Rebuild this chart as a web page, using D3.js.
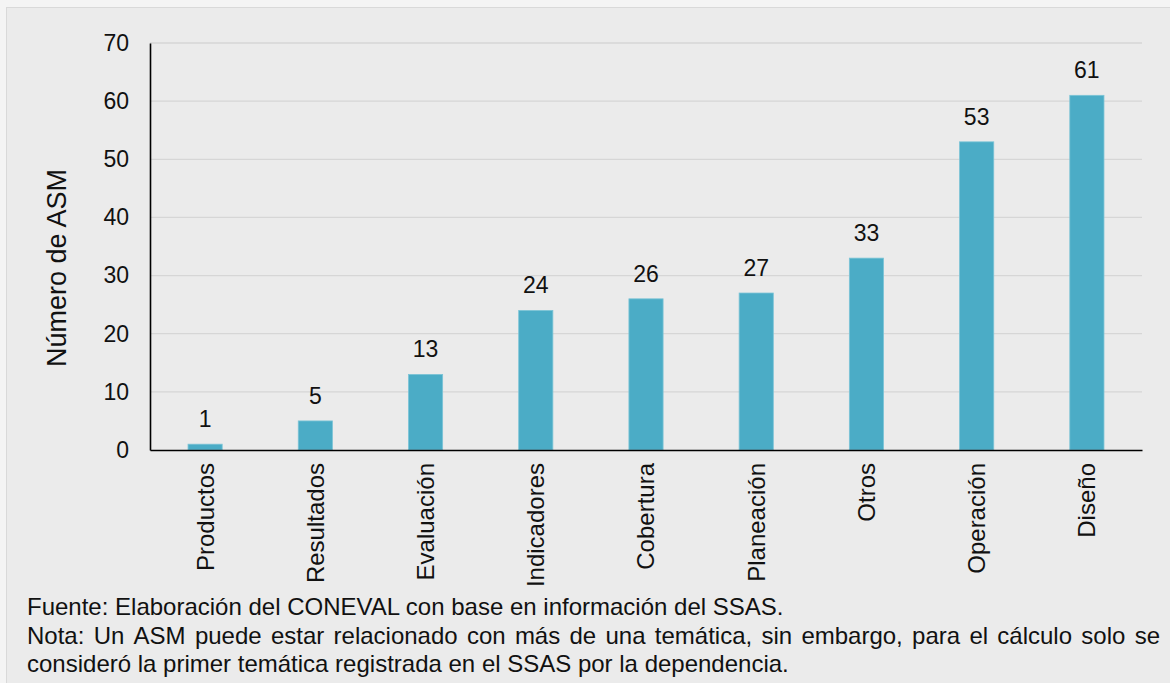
<!DOCTYPE html>
<html>
<head>
<meta charset="utf-8">
<script src="https://cdn.jsdelivr.net/npm/d3@7"></script>
<style>
  body { margin: 0; background: #f4f4f4; }
  svg { display: block; font-family: "Liberation Sans", Arial, sans-serif; }
</style>
</head>
<body>
<svg id="chart" width="1170" height="683"></svg>
<script>
const categories = ["Productos", "Resultados", "Evaluación", "Indicadores", "Cobertura", "Planeación", "Otros", "Operación", "Diseño"];
const values = [1, 5, 13, 24, 26, 27, 33, 53, 61];
const yTicks = [0, 10, 20, 30, 40, 50, 60, 70];
const notes = [
  "Fuente: Elaboración del CONEVAL con base en información del SSAS.",
  "Nota: Un ASM puede estar relacionado con más de una temática, sin embargo, para el cálculo solo se",
  "consideró la primer temática registrada en el SSAS por la dependencia."
];

const svg = d3.select("#chart");
const W = 1170, H = 683;
const plotLeft = 150, plotRight = 1142, plotTop = 43, plotBottom = 450;
const FONT = "Liberation Sans, Arial, sans-serif";

// fond du panneau
svg.append("rect")
  .attr("x", 6.5).attr("y", 7.5)
  .attr("width", W + 10).attr("height", H + 10)
  .attr("fill", "#ebebeb")
  .attr("stroke", "#d9d9d9");

const x = d3.scaleBand().domain(categories).range([plotLeft, plotRight]).paddingInner(0.69).paddingOuter(0.345);
const y = d3.scaleLinear().domain([0, 70]).range([plotBottom, plotTop]);

// grille
svg.append("g")
  .selectAll("line")
  .data(yTicks.filter(t => t > 0))
  .join("line")
  .attr("x1", plotLeft).attr("x2", plotRight)
  .attr("y1", d => y(d)).attr("y2", d => y(d))
  .attr("stroke", "#d6d6d6")
  .attr("stroke-width", 1.3);

// barres
svg.append("g")
  .selectAll("rect")
  .data(values)
  .join("rect")
  .attr("x", (d, i) => x(categories[i]))
  .attr("y", d => y(d))
  .attr("width", x.bandwidth())
  .attr("height", d => plotBottom - y(d))
  .attr("fill", "#4bacc6")
  .attr("stroke", "#7cc4d6")
  .attr("stroke-width", 0.8);

// étiquettes de valeur
svg.append("g")
  .selectAll("text")
  .data(values)
  .join("text")
  .attr("x", (d, i) => x(categories[i]) + x.bandwidth() / 2)
  .attr("y", d => y(d) - 17)
  .attr("text-anchor", "middle")
  .attr("font-size", "23px")
  .attr("fill", "#111")
  .text(d => d);

// axe Y
const yAxis = svg.append("g")
  .attr("transform", `translate(${plotLeft},0)`)
  .call(d3.axisLeft(y).tickValues(yTicks).tickSize(0).tickPadding(21));
yAxis.select(".domain").attr("stroke", "#000").attr("stroke-width", 1.6);
yAxis.selectAll("text").attr("font-size", "23px").attr("fill", "#111").attr("font-family", FONT);

// axe X
const xAxis = svg.append("g")
  .attr("transform", `translate(0,${plotBottom})`)
  .call(d3.axisBottom(x).tickSize(0).tickPadding(0));
xAxis.select(".domain").attr("stroke", "#000").attr("stroke-width", 1.6);
xAxis.selectAll("text")
  .attr("font-size", "24px")
  .attr("fill", "#111")
  .attr("font-family", FONT)
  .attr("transform", "rotate(-90)")
  .attr("text-anchor", "end")
  .attr("x", -13)
  .attr("y", 0)
  .attr("dy", "0.35em");

// titre axe Y
svg.append("text")
  .attr("transform", `translate(66,268) rotate(-90)`)
  .attr("text-anchor", "middle")
  .attr("font-size", "27px")
  .attr("fill", "#111")
  .text("Número de ASM");

// notes en bas (ligne 2 justifiée)
const noteX = 27, noteRight = 1160;
const noteY = [615, 644, 672];
notes.forEach((line, i) => {
  if (i !== 1) {
    svg.append("text")
      .attr("x", noteX).attr("y", noteY[i])
      .attr("font-size", "24px").attr("fill", "#111")
      .text(line);
    return;
  }
  const words = line.split(" ");
  const tmp = svg.append("text").attr("font-size", "24px");
  const widths = words.map(w => { tmp.text(w); return tmp.node().getComputedTextLength(); });
  tmp.remove();
  const gap = (noteRight - noteX - d3.sum(widths)) / (words.length - 1);
  let cx = noteX;
  words.forEach((w, k) => {
    svg.append("text")
      .attr("x", cx).attr("y", noteY[i])
      .attr("font-size", "24px").attr("fill", "#111")
      .text(w);
    cx += widths[k] + gap;
  });
});
</script>
</body>
</html>
